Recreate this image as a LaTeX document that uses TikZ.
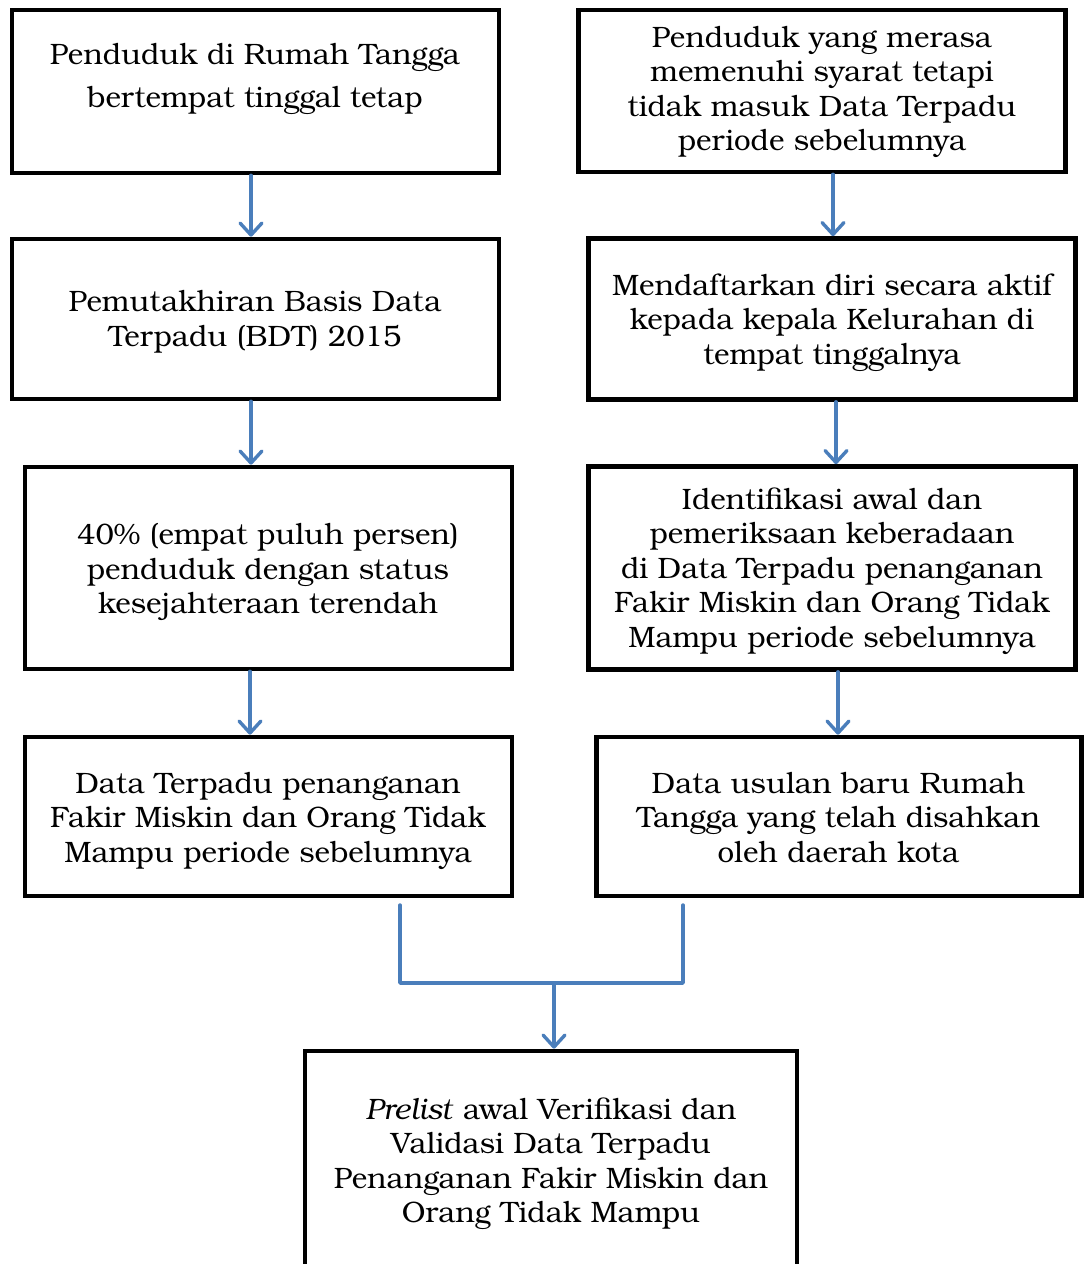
\documentclass[tikz,border=0pt]{standalone}
\usepackage{fontspec}
\setmainfont{texgyrebonum}[Extension=.otf, UprightFont=*-regular, ItalicFont=*-italic, BoldFont=*-bold, BoldItalicFont=*-bolditalic]
\usetikzlibrary{arrows.meta}
\definecolor{arrowblue}{HTML}{4A7EBB}
\begin{document}
\begin{tikzpicture}[x=0.5pt,y=-0.5pt,
  box/.style={draw=black, line width=2.3pt, rectangle, inner sep=0pt},
  txt/.style={align=center, inner sep=0pt, font=\fontsize{14.75}{17.25}\selectfont},
  flow/.style={draw=arrowblue, line width=1.7pt, line cap=round, line join=round},
  arr/.style={flow, -{Straight Barb[length=6pt, width=11pt, line cap=round, line join=round]}}
]
\useasboundingbox (0,0) rectangle (1084,1264);
\clip (0,0) rectangle (1084,1264);
\fill[white] (0,0) rectangle (1084,1264);

% left column
\node[box, minimum width=243.5pt, minimum height=81.5pt] (l1) at (255.5,91.5) {};
\node[txt, font=\fontsize{14.75}{21.5}\selectfont] (l1t) at (255,79) {Penduduk di Rumah Tangga\\bertempat tinggal tetap};
\node[box, minimum width=243.5pt, minimum height=80pt] (l2) at (255.5,319) {};
\node[txt] (l2t) at (255,322) {Pemutakhiran Basis Data\\Terpadu (BDT) 2015};
\node[box, minimum width=243.5pt, minimum height=101pt] (l3) at (268.5,568) {};
\node[txt] (l3t) at (268,572) {40\% (empat puluh persen)\\penduduk dengan status\\kesejahteraan terendah};
\node[box, minimum width=243.5pt, minimum height=79.5pt] (l4) at (268.5,816.5) {};
\node[txt] (l4t) at (268,820.5) {Data Terpadu penanganan\\Fakir Miskin dan Orang Tidak\\Mampu periode sebelumnya};

% right column
\node[box, minimum width=243.5pt, minimum height=81pt] (r1) at (822,91) {};
\node[txt] (r1t) at (822,92) {Penduduk yang merasa\\memenuhi syarat tetapi\\tidak masuk Data Terpadu\\periode sebelumnya};
\node[box, minimum width=243.5pt, minimum height=80.5pt] (r2) at (832,319) {};
\node[txt] (r2t) at (832,322.5) {Mendaftarkan diri secara aktif\\kepada kepala Kelurahan di\\tempat tinggalnya};
\node[box, minimum width=243.5pt, minimum height=101.5pt] (r3) at (832,568) {};
\node[txt] (r3t) at (832,571) {Identifikasi awal dan\\pemeriksaan keberadaan\\di Data Terpadu penanganan\\Fakir Miskin dan Orang Tidak\\Mampu periode sebelumnya};
\node[box, minimum width=242.5pt, minimum height=79.5pt] (r4) at (839,816.5) {};
\node[txt] (r4t) at (838.5,817.5) {Data usulan baru Rumah\\Tangga yang telah disahkan\\oleh daerah kota};

% bottom
\node[box, minimum width=246pt, minimum height=109.5pt] (b) at (551,1160.5) {};
\node[txt] (bt) at (551,1163.5) {\textit{Prelist} awal Verifikasi dan\\Validasi Data Terpadu\\Penanganan Fakir Miskin dan\\Orang Tidak Mampu};

% arrows
\draw[arr] (l1.south -| 251,0) -- (l2.north -| 251,0);
\draw[arr] (l2.south -| 251,0) -- (l3.north -| 251,0);
\draw[arr] (l3.south -| 250,0) -- (l4.north -| 250,0);
\draw[arr] (r1.south -| 833,0) -- (r2.north -| 833,0);
\draw[arr] (r2.south -| 836,0) -- (r3.north -| 836,0);
\draw[arr] (r3.south -| 838,0) -- (r4.north -| 838,0);

\coordinate (jl) at (400,905);
\coordinate (jr) at (683,905);
\coordinate (jm) at (554,983);
\draw[flow] (jl) |- (jm) -| (jr);
\draw[arr] (jm) -- (b.north -| jm);
\end{tikzpicture}
\end{document}
